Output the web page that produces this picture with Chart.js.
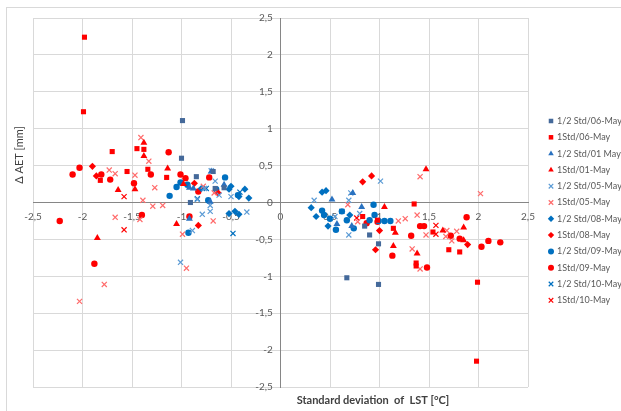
<!DOCTYPE html>
<html>
<head>
<meta charset="utf-8">
<title>ΔAET vs standard deviation of LST</title>
<script src="https://cdn.jsdelivr.net/npm/chart.js@4.4.1/dist/chart.umd.min.js"></script>
<style>
  html, body { margin: 0; padding: 0; background: #fff; overflow: hidden; }
  .frame { position: absolute; left: 6px; top: 7px; width: 700px; height: 500px; border: 1px solid #d9d9d9; }
  .chart-box { position: absolute; left: 0; top: 0; width: 621px; height: 411px; }
</style>
</head>
<body>
<div class="frame"></div>
<div class="chart-box"><canvas id="aetChart"></canvas></div>
<script>
// Axis ticks (both axes run from -2.5 to 2.5)
const tickValues = [-2.5, -2, -1.5, -1, -0.5, 0, 0.5, 1, 1.5, 2, 2.5];

// [std LST, delta AET] pairs per date / threshold
const half06 = [[-0.99, 1.11], [-1.00, 0.60], [-0.85, 0.35], [-0.91, 0.00], [-0.68, 0.42], [-0.66, 0.19],
  [-0.57, 0.20], [0.85, -0.32], [0.90, -0.44], [0.99, -0.56], [0.67, -1.02], [0.99, -1.11]];
const full06 = [[-1.98, 2.24], [-1.99, 1.23], [-1.70, 0.69], [-1.45, 0.73], [-1.38, 0.72], [-1.55, 0.42],
  [-1.34, 0.45], [-1.82, 0.30], [-1.15, 0.34], [0.83, -0.19], [1.14, -0.35], [1.35, -0.02], [1.37, -0.82],
  [1.37, -0.86], [1.54, -0.40], [1.70, -0.64], [1.81, -0.67], [1.99, -1.08], [1.98, -2.15], [0.98, -0.24]];
const half01 = [[-0.92, 0.20], [-0.88, 0.19], [-0.70, 0.42], [-0.57, 0.24], [-0.92, -0.22], [-0.71, 0.01],
  [0.52, 0.04], [0.73, 0.13], [0.82, -0.06], [0.57, -0.29], [0.72, -0.32]];
const full01 = [[-1.38, 0.81], [-1.38, 0.63], [-1.14, 0.46], [-1.64, 0.17], [-1.47, 0.18], [-1.05, -0.29],
  [-1.85, -0.48], [-0.98, 0.25], [1.47, 0.45], [1.05, -0.06], [1.16, -0.41], [1.14, -0.59], [1.38, -0.69],
  [1.64, -0.38], [1.85, -0.34], [1.85, -0.51]];
const half05 = [[-0.70, 0.43], [-0.66, 0.29], [-0.77, 0.19], [-0.84, 0.04], [-0.62, 0.10], [-0.50, 0.08],
  [-0.79, -0.16], [-0.71, -0.12], [-0.89, -0.38], [-0.34, -0.13], [-1.01, -0.81], [-0.71, -0.04],
  [0.34, 0.03], [0.71, 0.13], [0.69, 0.03], [1.01, 0.29], [0.55, -0.19], [0.80, -0.15], [0.69, -0.44]];
const full05 = [[-1.41, 0.88], [-1.33, 0.56], [-1.73, 0.44], [-1.67, 0.39], [-1.47, 0.37], [-1.27, 0.20],
  [-1.39, 0.03], [-1.29, -0.05], [-1.19, -0.04], [-0.78, 0.22], [-0.67, 0.13], [-1.67, -0.20], [-1.42, -0.23],
  [-1.78, -1.11], [-2.03, -1.34], [-0.68, -0.25], [-0.99, -0.43], [-0.95, -0.89], [1.41, 0.35], [2.02, 0.12],
  [0.68, -0.03], [0.78, -0.26], [1.19, -0.25], [1.26, -0.22], [1.38, -0.17], [1.47, -0.44], [1.33, -0.63],
  [1.41, -0.90], [1.68, -0.38], [1.67, -0.46], [1.73, -0.52], [1.78, -0.39]];
const half08 = [[-0.80, 0.19], [-0.50, 0.22], [-0.52, 0.18], [-0.36, 0.18], [-0.32, 0.06], [-0.42, 0.08],
  [-0.52, -0.15], [-0.42, -0.16], [-0.46, -0.12], [0.42, 0.14], [0.46, 0.16], [0.31, -0.07], [0.36, -0.19],
  [0.48, -0.32], [0.70, -0.17]];
const full08 = [[-1.90, 0.49], [-0.87, 0.26], [-0.83, -0.31], [-1.86, 0.36], [-0.63, 0.13], [0.83, 0.28],
  [0.92, 0.36], [1.00, -0.38], [0.96, -0.64], [1.89, -0.57]];
const half09 = [[-1.12, 0.09], [-1.05, 0.21], [-1.01, 0.27], [-0.94, 0.24], [-0.56, 0.34], [-0.43, 0.10],
  [-0.73, 0.03], [-0.93, -0.41], [-0.65, 0.18], [0.42, -0.11], [0.44, -0.17], [0.56, -0.37], [0.62, -0.12],
  [0.67, -0.24], [0.74, -0.35], [0.90, -0.24], [0.95, -0.17], [0.99, -0.25], [1.05, -0.25], [1.11, -0.25],
  [0.94, -0.03], [0.50, -0.22]];
const full09 = [[-2.10, 0.38], [-2.03, 0.47], [-1.81, 0.38], [-1.72, 0.31], [-1.48, 0.26], [-1.31, 0.38],
  [-1.13, 0.68], [-1.01, 0.38], [-0.96, 0.33], [-0.72, 0.34], [-0.83, 0.15], [-2.23, -0.25], [-1.88, -0.83],
  [-1.40, -0.17], [-0.92, -0.19], [0.87, -0.28], [0.98, -0.26], [1.13, -0.72], [1.32, -0.45], [1.41, -0.32],
  [1.45, -0.32], [1.48, -0.88], [1.72, -0.45], [1.81, -0.49], [1.88, -0.20], [2.03, -0.60], [2.10, -0.52],
  [2.22, -0.54]];
const half10 = [[-0.75, 0.19], [-0.41, 0.14], [-0.48, -0.42], [-0.84, 0.05], [0.62, -0.12]];
const full10 = [[-1.58, 0.08], [-1.58, -0.37], [1.57, -0.31], [1.57, -0.43], [0.77, -0.21]];

const seriesNames = ['1/2 Std/06-May', '1Std/06-May', '1/2 Std/01 May', '1Std/01-May', '1/2 Std/05-May',
  '1Std/05-May', '1/2 Std/08-May', '1Std/08-May', '1/2 Std/09-May', '1Std/09-May', '1/2 Std/10-May', '1Std/10-May'];
const seriesData = [half06, full06, half01, full01, half05, full05, half08, full08, half09, full09, half10, full10];

const styles = [
  { color: '#44699a', shape: 'rect', r: 3.6 },
  { color: '#ff0000', shape: 'rect', r: 3.6 },
  { color: '#2a72c0', shape: 'triangle', r: 4 },
  { color: '#ff0000', shape: 'triangle', r: 4 },
  { color: '#5b9bd5', shape: 'crossRot', r: 3.6 },
  { color: '#ff6b6b', shape: 'crossRot', r: 3.6 },
  { color: '#0070c0', shape: 'rectRot', r: 3.6 },
  { color: '#ff0000', shape: 'rectRot', r: 3.6 },
  { color: '#0070c0', shape: 'circle', r: 3.2 },
  { color: '#ff0000', shape: 'circle', r: 3.2 },
  { color: '#0070c0', shape: 'crossRot', r: 3.6 },
  { color: '#ff0000', shape: 'crossRot', r: 3.6 }
];

const fmt = v => String(v).replace('.', ',');

const datasets = seriesNames.map((name, i) => ({
  label: name,
  data: seriesData[i].map(p => ({ x: p[0], y: p[1] })),
  pointStyle: styles[i].shape,
  pointRadius: styles[i].r,
  pointHoverRadius: styles[i].r,
  pointBackgroundColor: styles[i].color,
  pointBorderColor: styles[i].color,
  pointBorderWidth: styles[i].shape === 'crossRot' ? 1.2 : 0,
  backgroundColor: styles[i].color,
  borderColor: styles[i].color
}));

// Axis titles and the right-hand legend
const decorations = {
  id: 'decorations',
  afterDraw(chart) {
    const ctx = chart.ctx;
    ctx.save();
    ctx.fillStyle = '#404040';
    ctx.textAlign = 'center';
    ctx.textBaseline = 'middle';

    ctx.save();
    ctx.translate(19, 155);
    ctx.rotate(-Math.PI / 2);
    ctx.font = '11px Lato';
    ctx.fillText('Δ AET [mm]', 0, 0);
    ctx.restore();

    ctx.font = 'bold 11px Lato';
    ctx.fillText('Standard deviation  of  LST [°C]', 373, 400);

    ctx.font = '9px Lato';
    ctx.textAlign = 'left';
    ctx.fillStyle = '#595959';
    chart.data.datasets.forEach((ds, i) => {
      const y = 121 + i * 16.3;
      ctx.save();
      ctx.fillStyle = ds.pointBackgroundColor;
      ctx.strokeStyle = ds.pointBorderColor;
      ctx.lineWidth = ds.pointBorderWidth;
      Chart.helpers.drawPoint(ctx, {
        pointStyle: ds.pointStyle,
        radius: ds.pointStyle === 'circle' ? 3 : 3.2,
        rotation: 0,
        borderWidth: ds.pointBorderWidth
      }, 551, y);
      ctx.restore();
      ctx.fillText(ds.label, 557, y);
    });
    ctx.restore();
  }
};

new Chart(document.getElementById('aetChart'), {
  type: 'scatter',
  data: { datasets },
  options: {
    responsive: true,
    maintainAspectRatio: false,
    animation: false,
    layout: { padding: { left: 33, right: 93, top: 18, bottom: 24 } },
    scales: {
      x: {
        type: 'linear',
        min: -2.5,
        max: 2.5,
        position: { y: 0 },
        afterBuildTicks: axis => { axis.ticks = tickValues.map(v => ({ value: v })); },
        grid: { color: '#d9d9d9', drawTicks: false },
        border: { color: '#868686', width: 1 },
        ticks: {
          padding: 8,
          color: '#595959',
          font: { family: 'Lato', size: 10 },
          maxRotation: 0,
          callback: v => fmt(v)
        }
      },
      y: {
        type: 'linear',
        min: -2.5,
        max: 2.5,
        position: { x: 0 },
        afterBuildTicks: axis => { axis.ticks = tickValues.map(v => ({ value: v })); },
        grid: { color: '#d9d9d9', drawTicks: false },
        border: { color: '#868686', width: 1 },
        ticks: {
          color: '#595959',
          font: { family: 'Lato', size: 10 },
          callback: v => fmt(v) + '   '
        }
      }
    },
    plugins: {
      legend: { display: false },
      tooltip: { enabled: false }
    }
  },
  plugins: [decorations]
});
</script>
</body>
</html>
